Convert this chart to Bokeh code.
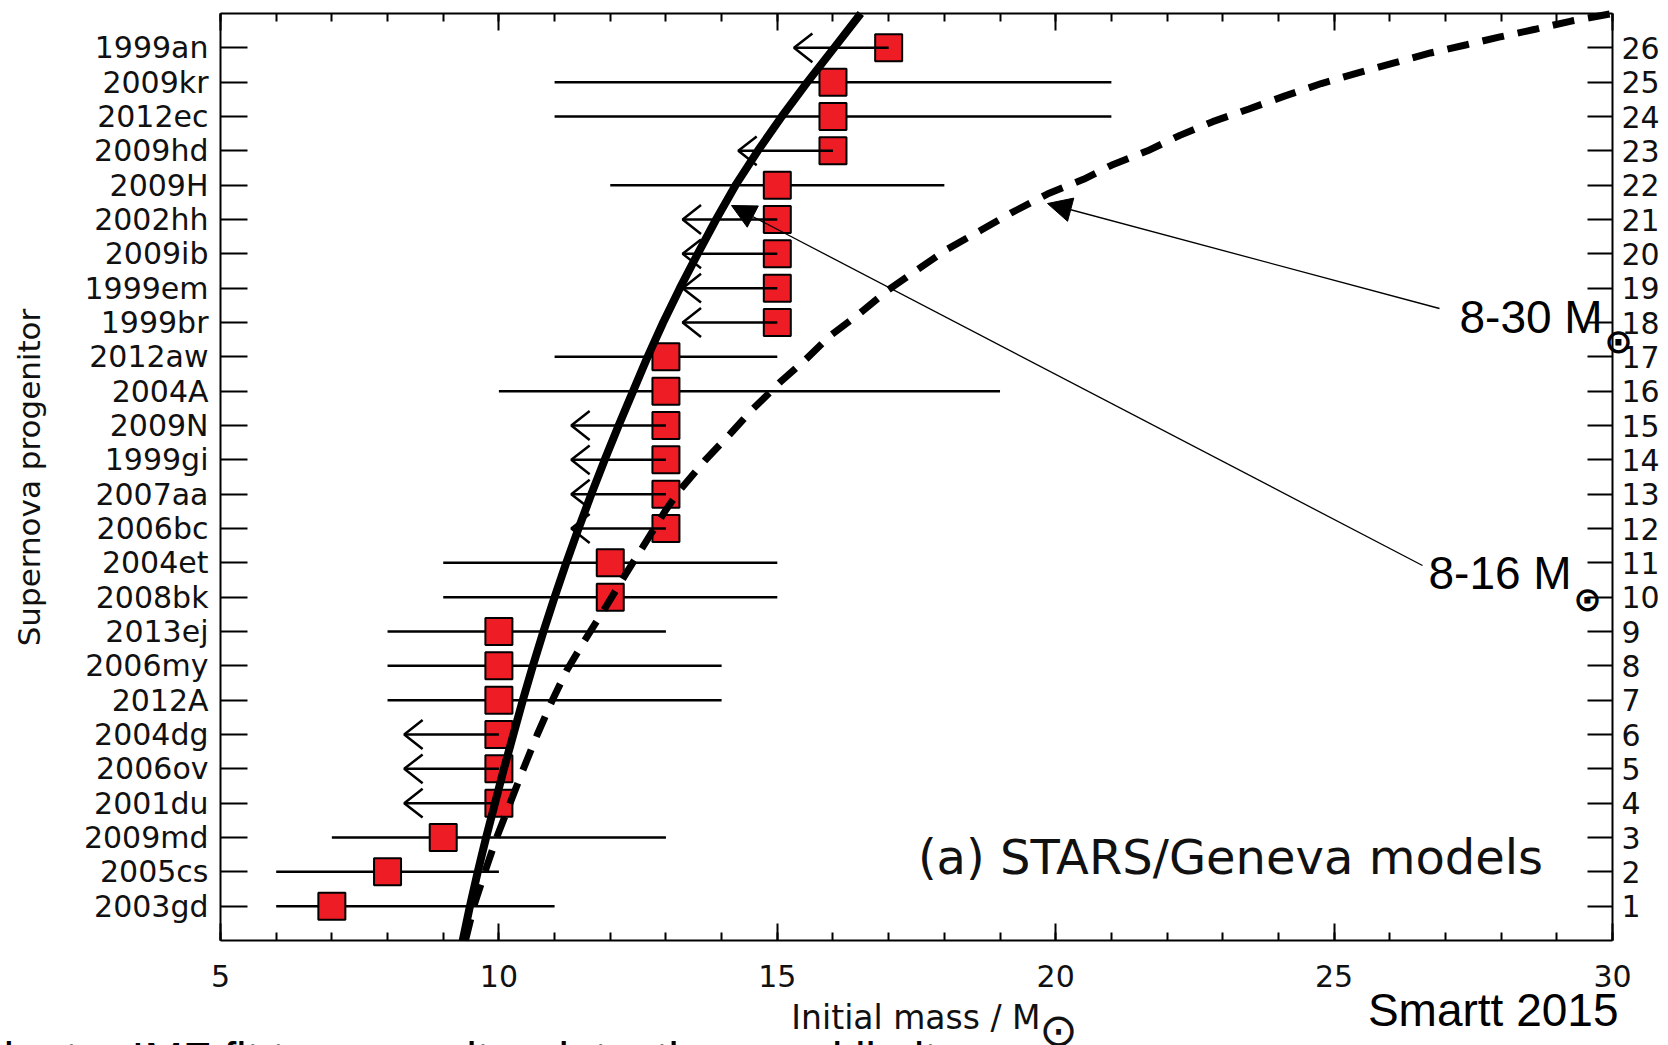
import math
from bokeh.plotting import figure
from bokeh.models import (Range1d, LinearAxis, FixedTicker, SingleIntervalTicker,
                          Label, Arrow, NormalHead, ColumnDataSource)
from bokeh.embed import file_html
from bokeh.resources import INLINE

# ---------------- data ----------------
sn_names = ["2003gd", "2005cs", "2009md", "2001du", "2006ov", "2004dg", "2012A",
            "2006my", "2013ej", "2008bk", "2004et", "2006bc", "2007aa", "1999gi",
            "2009N", "2004A", "2012aw", "1999br", "1999em", "2009ib", "2002hh",
            "2009H", "2009hd", "2012ec", "2009kr", "1999an"]
sn_rank = list(range(1, 27))
sn_mass = [7, 8, 9, 10, 10, 10, 10, 10, 10, 12, 12, 13, 13, 13, 13, 13, 13,
           15, 15, 15, 15, 15, 16, 16, 16, 17]
err_low = [6, 6, 7, None, None, None, 8, 8, 8, 9, 9, None, None, None, None,
           10, 11, None, None, None, None, 12, None, 11, 11, None]
err_high = [11, 10, 13, None, None, None, 14, 14, 13, 15, 15, None, None, None, None,
            19, 15, None, None, None, None, 18, None, 21, 21, None]

# IMF fit 8-16 Msun (solid curve)
fit16_rank = [0, 1, 2, 3, 4, 5, 6, 7, 8, 9, 10, 11, 12, 13, 14, 15, 16, 17,
              18, 19, 20, 21, 22, 23, 24, 25, 26, 27]
fit16_mass = [9.35, 9.48, 9.62, 9.77, 9.93, 10.09, 10.26, 10.43, 10.61, 10.80,
              11.00, 11.21, 11.43, 11.66, 11.90, 12.15, 12.41, 12.67, 12.95,
              13.25, 13.57, 13.90, 14.25, 14.65, 15.08, 15.54, 16.02, 16.50]

# IMF fit 8-30 Msun (dashed curve)
fit30_mass = [9.40, 9.55, 9.77, 9.96, 10.20, 10.44, 10.69, 10.96, 11.22, 11.54,
              11.88, 12.28, 12.58, 12.99, 13.24, 13.70, 14.15, 14.53, 15.05,
              15.49, 15.94, 16.46, 16.97, 17.48, 18.06, 18.64, 19.21, 19.85,
              20.50, 21.00, 21.65, 22.23, 22.82, 23.47, 24.12, 24.77, 25.43,
              26.08, 26.73, 27.38, 27.96, 28.61, 29.26, 30.00]
fit30_rank = [0.0, 1.0, 2.1, 3.0, 4.0, 5.0, 6.0, 7.0, 7.87, 8.74, 9.61, 10.68,
              11.45, 12.52, 13.10, 13.98, 14.75, 15.43, 16.26, 16.89, 17.60,
              18.24, 18.92, 19.50, 20.14, 20.67, 21.20, 21.74, 22.17, 22.58,
              23.00, 23.45, 23.85, 24.22, 24.60, 24.96, 25.27, 25.56, 25.85,
              26.09, 26.31, 26.54, 26.78, 27.00]

# ---------------- layout / styling constants ----------------
W, H = 1668, 1045
PX_L, PX_R, PX_T, PX_B = 220, 1612, 13, 940      # where the plot box sits
XMIN, XMAX, YMIN, YMAX = 5, 30, 0, 27
sx = (PX_R - PX_L) / (XMAX - XMIN)
sy = (PX_B - PX_T) / (YMAX - YMIN)


def dx(px):   # canvas pixel -> mass coordinate
    return XMIN + (px - PX_L) / sx


def dy(py):   # canvas pixel -> rank coordinate
    return YMIN + (PX_B - py) / sy


ARROW_LEN = 1.7      # length of upper-limit arrows (mass units)
HEAD_DX = 0.33
HEAD_DY = 0.42
RED = "#EE1C24"
TICK_FONT = "DejaVu Sans"
INK = "#111111"

# ---------------- sources ----------------
bar_src = ColumnDataSource(dict(
    x0=[l for l in err_low if l is not None],
    x1=[h for h in err_high if h is not None],
    y=[r for r, l in zip(sn_rank, err_low) if l is not None]))

lim_m = [m for m, l in zip(sn_mass, err_low) if l is None]
lim_r = [r for r, l in zip(sn_rank, err_low) if l is None]
lim_src = ColumnDataSource(dict(x0=lim_m, x1=[m - ARROW_LEN for m in lim_m], y=lim_r))
head_src = ColumnDataSource(dict(
    xs=[[m - ARROW_LEN + HEAD_DX, m - ARROW_LEN, m - ARROW_LEN + HEAD_DX] for m in lim_m],
    ys=[[r + HEAD_DY, r, r - HEAD_DY] for r in lim_r]))
pt_src = ColumnDataSource(dict(x=sn_mass, y=sn_rank, name=sn_names))

# ---------------- figure (frame spans the canvas, axes pinned to the box) -------
p = figure(width=W, height=H,
           x_range=Range1d(dx(0), dx(W)), y_range=Range1d(dy(H), dy(0)),
           output_backend="svg", toolbar_location=None,
           min_border_left=0, min_border_right=0, min_border_top=0, min_border_bottom=0)
p.grid.visible = False
p.outline_line_color = None
p.background_fill_color = "white"
p.border_fill_color = "white"

# bottom axis
xa = p.xaxis[0]
xa.fixed_location = YMIN
xa.bounds = (XMIN, XMAX)
xa.ticker = SingleIntervalTicker(interval=5, num_minor_ticks=5)
xa.major_tick_in = 17
xa.major_tick_out = 0
xa.minor_tick_in = 8
xa.minor_tick_out = 0
xa.axis_line_width = 2
xa.major_tick_line_width = 2
xa.minor_tick_line_width = 2
xa.major_label_text_font = TICK_FONT
xa.major_label_text_font_size = "30px"
xa.major_label_text_color = INK
xa.major_label_standoff = 24

# top axis (ticks only)
top = LinearAxis(ticker=SingleIntervalTicker(interval=5, num_minor_ticks=5),
                 fixed_location=YMAX, bounds=(XMIN, XMAX),
                 major_label_text_color=None, major_label_standoff=0,
                 major_tick_in=17, major_tick_out=0, minor_tick_in=8, minor_tick_out=0,
                 axis_line_width=2, major_tick_line_width=2, minor_tick_line_width=2)
p.add_layout(top, "above")

# left axis with SN names
ya = p.yaxis[0]
ya.fixed_location = XMIN
ya.bounds = (YMIN, YMAX)
ya.ticker = FixedTicker(ticks=sn_rank, minor_ticks=[])
ya.major_label_overrides = {r: n for r, n in zip(sn_rank, sn_names)}
ya.major_tick_in = 27
ya.major_tick_out = 0
ya.minor_tick_in = 0
ya.minor_tick_out = 0
ya.axis_line_width = 2
ya.major_tick_line_width = 2
ya.major_label_text_font = TICK_FONT
ya.major_label_text_font_size = "30px"
ya.major_label_text_color = INK
ya.major_label_standoff = 12

# right axis with rank numbers
ra = LinearAxis(ticker=FixedTicker(ticks=sn_rank, minor_ticks=[]),
                fixed_location=XMAX, bounds=(YMIN, YMAX),
                major_tick_in=25, major_tick_out=0, minor_tick_in=0, minor_tick_out=0,
                axis_line_width=2, major_tick_line_width=2,
                major_label_text_font=TICK_FONT, major_label_text_font_size="30px",
                major_label_text_color=INK, major_label_standoff=9)
p.add_layout(ra, "right")

# ---------------- marks ----------------
p.segment(x0="x0", y0="y", x1="x1", y1="y", source=bar_src, line_color="black", line_width=2.5)
p.scatter(x="x", y="y", source=pt_src, marker="square", size=27,
          fill_color=RED, line_color="black", line_width=2)
p.segment(x0="x0", y0="y", x1="x1", y1="y", source=lim_src, line_color="black", line_width=2.5)
p.multi_line(xs="xs", ys="ys", source=head_src, line_color="black", line_width=2.5)

p.line(fit16_mass, fit16_rank, line_color="black", line_width=8)
p.line(fit30_mass, fit30_rank, line_color="black", line_width=7, line_dash="22 14")

# ---------------- annotations ----------------
p.add_layout(Arrow(end=NormalHead(size=24, fill_color="black", line_color="black", line_width=1),
                   x_start=dx(1439), y_start=dy(308), x_end=dx(1047), y_end=dy(203),
                   line_color="black", line_width=1.3))
p.add_layout(Arrow(end=NormalHead(size=24, fill_color="black", line_color="black", line_width=1),
                   x_start=dx(1422), y_start=dy(565), x_end=dx(731), y_end=dy(205),
                   line_color="black", line_width=1.3))

p.add_layout(Label(x=dx(1459), y=dy(316), text="8-30 M", text_font="Liberation Sans",
                   text_font_size="46px", text_color="black", text_baseline="alphabetic"))
p.add_layout(Label(x=dx(1618), y=dy(340), text="⊙", text_font="DejaVu Sans",
                   text_font_size="34px", text_font_style="bold", text_color="black",
                   text_align="center", text_baseline="middle"))
p.add_layout(Label(x=dx(1428), y=dy(572), text="8-16 M", text_font="Liberation Sans",
                   text_font_size="46px", text_color="black", text_baseline="alphabetic"))
p.add_layout(Label(x=dx(1587), y=dy(598), text="⊙", text_font="DejaVu Sans",
                   text_font_size="34px", text_font_style="bold", text_color="black",
                   text_align="center", text_baseline="middle"))

p.add_layout(Label(x=dx(1230), y=dy(856), text="(a) STARS/Geneva models", text_font=TICK_FONT,
                   text_font_size="48px", text_color=INK, text_align="center",
                   text_baseline="alphabetic"))

# axis titles
p.add_layout(Label(x=dx(1040), y=dy(1017), text="Initial mass / M", text_font=TICK_FONT,
                   text_font_size="33px", text_color=INK, text_align="right",
                   text_baseline="alphabetic"))
p.add_layout(Label(x=dx(1058), y=dy(1029), text="⊙", text_font="DejaVu Sans",
                   text_font_size="46px", text_color=INK,
                   text_align="center", text_baseline="middle"))
p.add_layout(Label(x=dx(28), y=dy(477), text="Supernova progenitor", text_font=TICK_FONT,
                   text_font_size="31px", text_color=INK, text_align="center",
                   text_baseline="middle", angle=math.pi / 2))

p.add_layout(Label(x=dx(1618), y=dy(1009), text="Smartt 2015", text_font="Liberation Sans",
                   text_font_size="46px", text_color="black", text_align="right",
                   text_baseline="alphabetic"))
p.add_layout(Label(x=dx(-53), y=dy(1058), text="Salpeter IMF fit to progenitor detections and limits",
                   text_font="Liberation Sans", text_font_size="46px", text_color="black",
                   text_baseline="alphabetic"))

open("out.html", "w").write(file_html(p, INLINE))
